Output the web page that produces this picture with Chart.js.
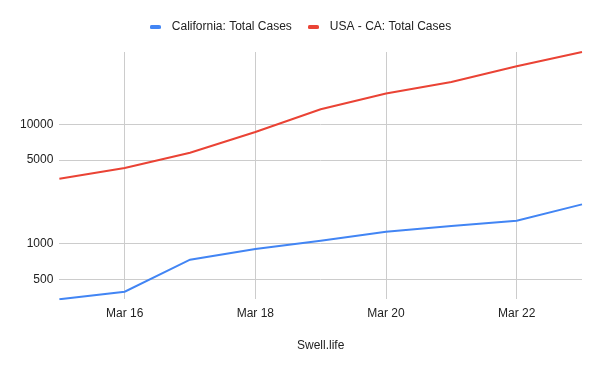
<!DOCTYPE html>
<html>
<head>
<meta charset="utf-8">
<script src="https://cdn.jsdelivr.net/npm/chart.js@4"></script>
<style>
    html, body { margin: 0; padding: 0; background: #fff; }
    #wrap { width: 600px; height: 371px; }
</style>
</head>
<body>
<div id="wrap"><canvas id="casesChart"></canvas></div>
<script>
// --- Data ---
const days = ['Mar 15', 'Mar 16', 'Mar 17', 'Mar 18', 'Mar 19', 'Mar 20', 'Mar 21', 'Mar 22', 'Mar 23'];
const californiaCases = [340, 393, 730, 899, 1054, 1254, 1398, 1552, 2127];
const restOfUsaCases = [3498, 4294, 5783, 8614, 13370, 18130, 22670, 30720, 40510];
const yTicks = [500, 1000, 5000, 10000];

const textColor = '#222222';
const gridColor = '#cccccc';
const blue = '#4285f4';
const red = '#ea4335';

Chart.defaults.font.family = "'Liberation Sans', Arial, sans-serif";
Chart.defaults.font.size = 12;
Chart.defaults.color = textColor;

// small rounded bar used as the legend marker
function legendMarker(color) {
    const c = document.createElement('canvas');
    c.width = 11;
    c.height = 4;
    const g = c.getContext('2d');
    g.fillStyle = color;
    g.beginPath();
    g.roundRect(0, 0, 11, 4, 1.5);
    g.fill();
    return c;
}

// extra space between legend and plot
const legendGap = {
    id: 'legendGap',
    beforeInit(chart) {
        if (!chart.legend) return;
        const fit = chart.legend.fit;
        chart.legend.fit = function() {
            fit.bind(chart.legend)();
            this.height += 9;
        };
    }
};

const ctx = document.getElementById('casesChart').getContext('2d');
new Chart(ctx, {
    type: 'line',
    data: {
        labels: days,
        datasets: [
            {
                label: 'California: Total Cases',
                data: californiaCases,
                borderColor: blue,
                backgroundColor: blue,
                borderWidth: 2,
                pointRadius: 0,
                pointStyle: legendMarker(blue),
                tension: 0
            },
            {
                label: 'USA - CA: Total Cases',
                data: restOfUsaCases,
                borderColor: red,
                backgroundColor: red,
                borderWidth: 2,
                pointRadius: 0,
                pointStyle: legendMarker(red),
                tension: 0
            }
        ]
    },
    options: {
        responsive: true,
        maintainAspectRatio: false,
        animation: false,
        layout: {
            padding: { left: 14, right: 18, top: 10, bottom: 18 }
        },
        scales: {
            x: {
                offset: false,
                border: { display: false },
                grid: {
                    color: gridColor,
                    drawTicks: false
                },
                ticks: {
                    autoSkip: false,
                    maxRotation: 0,
                    padding: 7,
                    // only every other day gets a label (and a grid line)
                    callback: (value, index) => index % 2 === 1 ? days[index] : null
                },
                title: {
                    display: true,
                    text: 'Swell.life',
                    color: textColor,
                    font: { size: 12 },
                    padding: { top: 11, bottom: 0 }
                }
            },
            y: {
                type: 'logarithmic',
                bounds: 'data',
                border: { display: false },
                grid: {
                    color: gridColor,
                    drawTicks: false
                },
                afterBuildTicks: (axis) => {
                    axis.ticks = yTicks.map(v => ({ value: v }));
                },
                ticks: {
                    padding: 6,
                    callback: (value) => String(value)
                }
            }
        },
        plugins: {
            legend: {
                position: 'top',
                labels: {
                    usePointStyle: true,
                    pointStyleWidth: 21,
                    boxHeight: 4,
                    padding: 11
                }
            },
            tooltip: { enabled: false }
        }
    },
    plugins: [legendGap]
});
</script>
</body>
</html>
